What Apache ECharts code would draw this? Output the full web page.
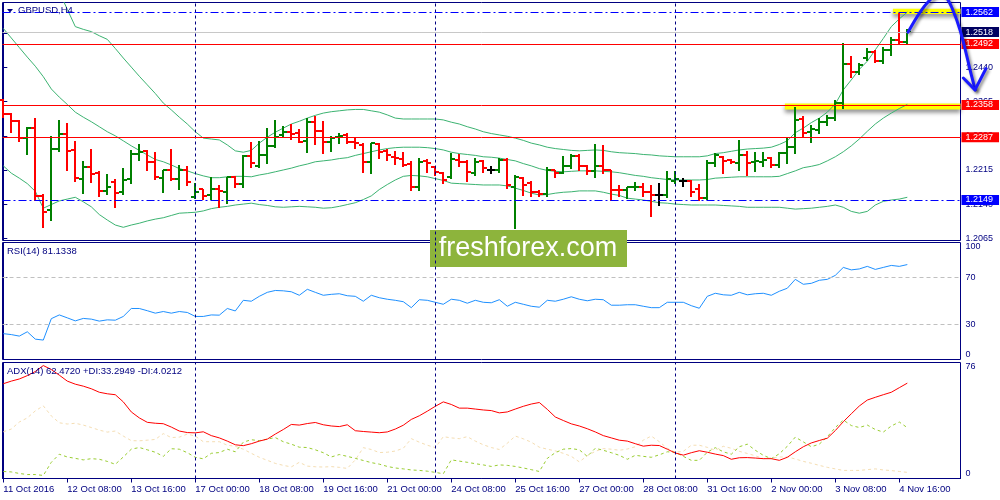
<!DOCTYPE html>
<html><head><meta charset="utf-8">
<script src="https://cdn.jsdelivr.net/npm/echarts@6/dist/echarts.min.js"></script>
<style>html,body{margin:0;padding:0;background:#fff}#c{width:1000px;height:500px}</style>
</head><body><div id="c"></div>
<script>
// ---------- DATA ----------
const symbolName = 'GBPUSD,H4';
const opens = [1.2369,1.2338,1.2323,1.2285,1.2307,1.2158,1.2127,1.2260,1.2294,1.2259,1.2195,1.2221,1.2209,1.2169,1.2189,1.2167,1.2195,1.2250,1.2257,1.2233,1.2197,1.2215,1.2195,1.2215,1.2156,1.2173,1.2160,1.2173,1.2167,1.2199,1.2184,1.2246,1.2224,1.2248,1.2268,1.2292,1.2298,1.2296,1.2279,1.2320,1.2301,1.2277,1.2287,1.2292,1.2277,1.2270,1.2233,1.2272,1.2257,1.2244,1.2238,1.2228,1.2178,1.2235,1.2222,1.2209,1.2199,1.2237,1.2233,1.2209,1.2235,1.2216,1.2215,1.2237,1.2178,1.2197,1.2186,1.2167,1.2162,1.2215,1.2209,1.2224,1.2246,1.2224,1.2213,1.2224,1.2215,1.2172,1.2171,1.2177,1.2178,1.2167,1.2160,1.2160,1.2191,1.2191,1.2191,1.2173,1.2153,1.2231,1.2243,1.2237,1.2231,1.2248,1.2232,1.2233,1.2242,1.2226,1.2252,1.2266,1.2326,1.2299,1.2303,1.2321,1.2329,1.2362,1.2448,1.2430,1.2461,1.2474,1.2454,1.2479,1.2501,1.2496];
const highs = [1.2370,1.2340,1.2324,1.2309,1.2330,1.2162,1.2290,1.2325,1.2319,1.2279,1.2235,1.2260,1.2212,1.2206,1.2195,1.2219,1.2259,1.2271,1.2259,1.2255,1.2216,1.2260,1.2226,1.2224,1.2186,1.2174,1.2199,1.2181,1.2200,1.2202,1.2248,1.2277,1.2279,1.2307,1.2325,1.2312,1.2316,1.2304,1.2330,1.2334,1.2323,1.2290,1.2297,1.2297,1.2285,1.2274,1.2275,1.2275,1.2260,1.2257,1.2255,1.2235,1.2241,1.2238,1.2224,1.2211,1.2252,1.2250,1.2237,1.2242,1.2237,1.2224,1.2241,1.2241,1.2204,1.2199,1.2191,1.2171,1.2222,1.2216,1.2246,1.2250,1.2249,1.2226,1.2272,1.2270,1.2216,1.2182,1.2178,1.2189,1.2187,1.2182,1.2187,1.2213,1.2213,1.2197,1.2193,1.2184,1.2237,1.2252,1.2246,1.2238,1.2281,1.2257,1.2255,1.2255,1.2244,1.2255,1.2288,1.2354,1.2334,1.2314,1.2329,1.2336,1.2369,1.2494,1.2465,1.2450,1.2482,1.2479,1.2485,1.2507,1.2560,1.2525];
const lows = [1.2331,1.2299,1.2279,1.2249,1.2149,1.2089,1.2105,1.2257,1.2215,1.2191,1.2165,1.2189,1.2158,1.2162,1.2133,1.2162,1.2186,1.2237,1.2215,1.2195,1.2167,1.2193,1.2173,1.2182,1.2153,1.2151,1.2151,1.2134,1.2142,1.2177,1.2177,1.2221,1.2221,1.2231,1.2266,1.2288,1.2282,1.2276,1.2255,1.2271,1.2253,1.2257,1.2275,1.2275,1.2263,1.2211,1.2209,1.2241,1.2237,1.2228,1.2224,1.2171,1.2171,1.2211,1.2204,1.2186,1.2197,1.2224,1.2191,1.2204,1.2211,1.2209,1.2211,1.2175,1.2087,1.2160,1.2158,1.2158,1.2158,1.2199,1.2208,1.2219,1.2216,1.2206,1.2200,1.2209,1.2148,1.2158,1.2153,1.2171,1.2158,1.2114,1.2138,1.2156,1.2186,1.2180,1.2158,1.2149,1.2151,1.2224,1.2209,1.2231,1.2215,1.2204,1.2213,1.2224,1.2221,1.2222,1.2231,1.2253,1.2288,1.2277,1.2297,1.2314,1.2325,1.2351,1.2419,1.2426,1.2457,1.2452,1.2450,1.2468,1.2494,1.2494];
const closes = [1.2337,1.2323,1.2285,1.2308,1.2158,1.2122,1.2260,1.2294,1.2257,1.2197,1.2221,1.2206,1.2169,1.2178,1.2164,1.2193,1.2249,1.2255,1.2233,1.2199,1.2215,1.2195,1.2215,1.2189,1.2167,1.2158,1.2173,1.2169,1.2199,1.2184,1.2246,1.2230,1.2248,1.2268,1.2288,1.2298,1.2294,1.2277,1.2320,1.2301,1.2276,1.2286,1.2290,1.2277,1.2274,1.2233,1.2274,1.2255,1.2248,1.2241,1.2226,1.2178,1.2233,1.2231,1.2211,1.2193,1.2238,1.2233,1.2211,1.2233,1.2219,1.2216,1.2237,1.2182,1.2199,1.2182,1.2167,1.2162,1.2215,1.2208,1.2224,1.2246,1.2224,1.2213,1.2224,1.2216,1.2171,1.2170,1.2177,1.2178,1.2167,1.2160,1.2160,1.2195,1.2195,1.2191,1.2167,1.2153,1.2231,1.2248,1.2235,1.2233,1.2248,1.2231,1.2235,1.2237,1.2226,1.2252,1.2266,1.2325,1.2297,1.2304,1.2321,1.2329,1.2362,1.2448,1.2430,1.2446,1.2474,1.2454,1.2479,1.2501,1.2496,1.2518];

const bbUpper = [null,null,null,null,null,null,null,1.2606,1.2568,1.2530,1.2524,1.2519,1.2510,1.2502,1.2482,1.2461,1.2441,1.2421,1.2402,1.2383,1.2362,1.2347,1.2331,1.2316,1.2299,1.2285,1.2283,1.2281,1.2270,1.2257,1.2254,1.2258,1.2274,1.2287,1.2298,1.2307,1.2316,1.2322,1.2329,1.2335,1.2340,1.2343,1.2345,1.2347,1.2348,1.2348,1.2345,1.2342,1.2336,1.2329,1.2327,1.2327,1.2327,1.2327,1.2327,1.2325,1.2320,1.2316,1.2310,1.2305,1.2299,1.2295,1.2292,1.2289,1.2285,1.2280,1.2274,1.2270,1.2265,1.2262,1.2260,1.2258,1.2257,1.2258,1.2259,1.2258,1.2255,1.2253,1.2252,1.2251,1.2249,1.2248,1.2246,1.2245,1.2244,1.2244,1.2244,1.2244,1.2246,1.2251,1.2253,1.2256,1.2259,1.2261,1.2262,1.2263,1.2265,1.2271,1.2279,1.2297,1.2307,1.2319,1.2329,1.2342,1.2360,1.2391,1.2413,1.2436,1.2454,1.2479,1.2504,1.2530,1.2547,1.2562];
const bbMiddle = [1.2526,1.2505,1.2484,1.2463,1.2443,1.2420,1.2393,1.2375,1.2359,1.2342,1.2331,1.2321,1.2310,1.2299,1.2290,1.2279,1.2268,1.2258,1.2248,1.2238,1.2233,1.2226,1.2218,1.2213,1.2207,1.2202,1.2198,1.2198,1.2200,1.2201,1.2201,1.2200,1.2204,1.2207,1.2211,1.2215,1.2219,1.2224,1.2228,1.2233,1.2235,1.2237,1.2240,1.2242,1.2247,1.2251,1.2255,1.2259,1.2262,1.2264,1.2265,1.2265,1.2265,1.2264,1.2262,1.2259,1.2254,1.2251,1.2249,1.2247,1.2244,1.2243,1.2241,1.2238,1.2235,1.2229,1.2224,1.2218,1.2214,1.2212,1.2211,1.2212,1.2213,1.2213,1.2213,1.2212,1.2211,1.2209,1.2206,1.2203,1.2201,1.2198,1.2196,1.2194,1.2193,1.2193,1.2193,1.2193,1.2194,1.2197,1.2198,1.2199,1.2200,1.2200,1.2200,1.2200,1.2200,1.2201,1.2207,1.2213,1.2220,1.2223,1.2227,1.2235,1.2244,1.2255,1.2268,1.2283,1.2300,1.2316,1.2329,1.2340,1.2350,1.2359];
const bbLower = [1.2224,1.2208,1.2197,1.2185,1.2168,1.2131,1.2139,1.2147,1.2151,1.2155,1.2145,1.2134,1.2117,1.2105,1.2094,1.2089,1.2094,1.2098,1.2103,1.2107,1.2110,1.2115,1.2120,1.2121,1.2122,1.2125,1.2130,1.2133,1.2135,1.2138,1.2140,1.2142,1.2139,1.2137,1.2134,1.2133,1.2134,1.2135,1.2134,1.2133,1.2131,1.2132,1.2135,1.2139,1.2143,1.2150,1.2158,1.2172,1.2183,1.2193,1.2201,1.2203,1.2202,1.2200,1.2196,1.2192,1.2186,1.2185,1.2184,1.2183,1.2182,1.2182,1.2182,1.2180,1.2175,1.2170,1.2164,1.2160,1.2161,1.2164,1.2166,1.2167,1.2169,1.2169,1.2169,1.2166,1.2162,1.2159,1.2153,1.2151,1.2149,1.2146,1.2143,1.2142,1.2140,1.2139,1.2138,1.2138,1.2138,1.2138,1.2137,1.2136,1.2135,1.2133,1.2133,1.2133,1.2133,1.2133,1.2131,1.2129,1.2130,1.2131,1.2133,1.2135,1.2138,1.2133,1.2124,1.2120,1.2124,1.2138,1.2146,1.2149,1.2151,1.2155];

const rsi = [22.1,21.3,20.0,23.7,17.4,16.6,34.9,38.1,35.6,33.0,35.1,34.5,32.8,33.9,33.6,36.8,43.6,43.6,41.7,39.6,41.0,39.6,41.0,40.2,36.8,36.8,38.1,37.9,43.6,41.5,50.6,49.8,54,57.4,59,58.7,57.9,54.9,60,57.4,54.9,55.7,56.2,54.5,54,49.8,54.9,52.8,51.5,50.6,49.4,44.3,51.1,50.6,48.9,47.2,51.5,50.6,48.1,50.6,48.9,48.5,51.1,45.5,48.9,47.2,45.5,44.7,50.6,49.8,51.5,53.6,51.5,50.2,51.5,51.1,46.4,46.4,46.8,46.8,45.5,44.3,44.3,48.9,48.9,48.9,46,43.8,54,56.6,55.3,54.9,57.4,55.3,56.2,56.6,54.9,58.3,60.9,68.5,64.3,65.1,67.7,68.5,71.9,78.7,76.6,77.4,79.6,77,78.7,80.4,79.6,81.1338];
const adx = [62.1,63.8,65.2,67.4,70.1,74.0,71.4,67.7,63.8,61.8,60.5,58.8,56.5,55.5,54.9,50.2,43.6,39.7,36.8,36.2,35.9,33.7,31.1,30.1,29.9,30.6,28.1,26.6,24.5,22.1,21.5,22.8,24.5,25.8,29.1,32.1,35.4,35.0,36.0,36.7,35.2,34.4,34.0,35.2,31.3,30.8,30.4,30.0,30.5,32.4,34.9,38.7,41.1,44.1,47.3,50.2,48.5,46.1,46.1,45.5,44.9,44.5,43.0,43.6,45.5,47.3,48.8,49.8,45.3,40.3,38.0,35.8,34.4,32.6,30.5,28.1,26.6,25.1,24.5,22.8,21.2,21.8,21.6,19.2,16.7,15.3,16.9,18.2,17.2,16.0,15.0,12.6,13.6,13.7,13.4,13.0,13.0,11.9,13.9,17.5,20.8,23.3,24.9,26.4,31.4,37.2,42.4,47.5,51.4,53.2,54.9,56.5,59.5,62.4720];
const plusDI = [4.6,4.3,3.3,2.6,2.6,2.0,10.6,15.9,14.1,13.2,12.2,13.0,12.6,11.2,9.3,14.1,19.2,20.3,18.8,17.2,14.5,19.5,19.2,16.9,13.9,12.9,16.5,17.0,19.2,17.5,23.8,25.4,24.8,25.8,26.8,24.1,22.5,20.5,20.3,18.8,16.9,14.1,15.7,14.5,13.2,11.8,10.4,9.4,7.9,6.9,6.3,5.6,5.3,4.8,4.0,3.1,12.2,11.4,10.6,9.7,8.9,7.9,8.9,8.6,7.9,6.9,5.8,4.6,13.2,16.9,19.2,19.6,18.8,14.5,19.8,18.5,16.9,15.2,12.6,15.2,14.5,13.9,15.5,17.5,17.2,14.5,11.9,11.9,17.2,20.2,17.5,15.9,20.8,22.5,18.5,15.2,13.0,16.2,21.1,27.1,24.0,20.8,22.5,27.3,33.4,38.3,34.7,33.4,35.0,32.1,30.4,34.4,37.0,33.2949];
const minusDI = [30.6,32.4,37.0,39.7,44.3,47.6,41.0,36.5,35.7,36.2,35.0,33.4,31.7,30.4,31.1,27.8,24.8,24.7,25.1,25.6,29.4,26.8,27.1,29.1,27.8,24.1,24.1,24.1,21.8,21.1,19.2,16.5,13.9,11.9,9.9,8.6,7.6,10.6,8.1,7.7,7.5,7.8,7.3,6.6,12.2,20.2,19.0,17.0,17.2,18.0,19.8,26.1,23.8,21.8,20.2,27.4,26.6,26.1,27.4,24.5,22.1,20.3,19.0,23.1,27.8,26.0,23.8,20.5,19.2,18.1,16.5,14.5,10.9,14.9,17.8,19.6,19.2,18.5,19.3,20.8,25.1,27.8,24.1,19.8,17.2,17.8,21.8,21.8,20.4,18.5,21.1,19.8,17.8,16.4,14.9,13.0,13.5,14.1,14.1,12.8,11.2,10.0,8.6,7.3,6.3,5.3,5.3,5.3,5.8,6.3,5.6,5.2,4.6,4.0212];

const timeTickIdx = [0,8,16,24,32,40,48,56,64,72,80,88,96,104,112];
const timeTickLabels = ['11 Oct 2016','12 Oct 08:00','13 Oct 16:00','17 Oct 00:00','18 Oct 08:00','19 Oct 16:00','21 Oct 00:00','24 Oct 08:00','25 Oct 16:00','27 Oct 00:00','28 Oct 08:00','31 Oct 16:00','2 Nov 00:00','3 Nov 08:00','4 Nov 16:00'];
const weekStartIdx = [24,54,84];
const priceTicks = [1.2065,1.2140,1.2215,1.2290,1.2365,1.2440,1.2515];
const redLevels = [1.2492,1.2358,1.2287];
const blueLevels = [1.2562,1.2149];
const bidPrice = 1.2518;
const rsiLevels = [30,70];
const rsiTicks = [0,30,70,100];
const adxTicks = [0,76];
// highlighted zones: start bar, top price, bottom price
const zoneFrom = [111.2, 97.7];
const zoneTop = [1.2569, 1.2361];
const zoneBottom = [1.2558, 1.2348];
// hand-drawn forecast arrow, [bar, price]
const arrowPath = [[113.1,1.2518],[114.6,1.2562],[115.8,1.2588],[116.8,1.2600],[117.8,1.2595],[118.7,1.2566],[119.6,1.2522],[120.4,1.2468],[121.0,1.2424],[121.5,1.2391]];
const arrowHead = [[120.0,1.2417],[121.46,1.2391],[122.84,1.2438]];

// ---------- CHART ----------
const NAVY = '#000080', GREEN = '#008000', RED = '#ff0000', BB = '#3cb371', BLUE = '#1a1aff';
const FONT = 'Liberation Sans';
const xMin = -0.1, xMax = 119.65;
const chart = echarts.init(document.getElementById('c'), null, {renderer: 'canvas'});

function ohlcRender(params, api) {
  const i = api.value(0), o = api.value(1), h = api.value(2), l = api.value(3), c = api.value(4);
  const ph = api.coord([i, h]), pl = api.coord([i, l]), po = api.coord([i, o]), pc = api.coord([i, c]);
  const x = Math.round(ph[0]);
  const col = c > o ? GREEN : (c < o ? RED : '#000000');
  const st = {stroke: col, lineWidth: 2};
  return {type: 'group', children: [
    {type: 'line', shape: {x1: x, y1: Math.round(ph[1]), x2: x, y2: Math.round(pl[1]) + 1}, style: st},
    {type: 'line', shape: {x1: x - 4, y1: Math.round(po[1]), x2: x, y2: Math.round(po[1])}, style: st},
    {type: 'line', shape: {x1: x, y1: Math.round(pc[1]), x2: x + 4, y2: Math.round(pc[1])}, style: st}
  ]};
}

function arrowRender(params, api) {
  const st = {stroke: BLUE, fill: null, lineWidth: 3, lineCap: 'round', lineJoin: 'round',
    shadowBlur: 3, shadowColor: 'rgba(0,0,0,0.45)', shadowOffsetX: 2, shadowOffsetY: 2};
  return {type: 'group', children: [
    {type: 'polyline', shape: {points: arrowPath.map(p => api.coord(p)), smooth: 0.4}, style: st},
    {type: 'polyline', shape: {points: arrowHead.map(p => api.coord(p))}, style: st}
  ]};
}

const txt = {color: NAVY, fontSize: 9, fontFamily: FONT};
const txtL = {color: NAVY, fontSize: 9.5, fontFamily: FONT};
const sepLine = (xi, yi) => ({type: 'line', xAxisIndex: xi, yAxisIndex: yi, data: [], silent: true, z: 1,
  markLine: {symbol: 'none', silent: true, animation: false, precision: 4, label: {show: false},
    lineStyle: {color: NAVY, type: [3, 3], width: 1}, data: weekStartIdx.map(v => ({xAxis: v}))}});
const levelLabel = (v, bg) => ({show: true, position: 'end', distance: 1, formatter: v.toFixed(4),
  backgroundColor: bg, color: '#fff', fontSize: 9, fontFamily: FONT, padding: [1, 6, 0, 4], lineHeight: 9});

const hiddenX = i => ({gridIndex: i, type: 'value', min: xMin, max: xMax, show: false, splitLine: {show: false}});
const gridBase = {left: 2.5, width: 958, show: true, borderColor: NAVY, borderWidth: 1, backgroundColor: '#fff'};
const titleStyle = Object.assign({fontWeight: 'normal'}, txtL);

const option = {
  animation: false,
  backgroundColor: '#ffffff',
  title: [
    {text: symbolName, left: 18, top: 5, padding: 0, textStyle: titleStyle},
    {text: 'RSI(14) ' + rsi[rsi.length - 1].toFixed(4), left: 7, top: 246, padding: 0, textStyle: titleStyle},
    {text: 'ADX(14) ' + adx[adx.length - 1].toFixed(4) + ' +DI:' + plusDI[plusDI.length - 1].toFixed(4) + ' -DI:' + minusDI[minusDI.length - 1].toFixed(4),
      left: 7, top: 366, padding: 0, textStyle: titleStyle}
  ],
  grid: [
    Object.assign({top: 2.5, height: 238}, gridBase),
    Object.assign({top: 242.5, height: 117}, gridBase),
    Object.assign({top: 362.5, height: 116}, gridBase)
  ],
  xAxis: [hiddenX(0), hiddenX(1), {
    gridIndex: 2, type: 'value', min: xMin, max: xMax, splitLine: {show: false},
    axisLine: {show: true, lineStyle: {color: NAVY}},
    axisTick: {show: true, length: 4, customValues: timeTickIdx, lineStyle: {color: NAVY}},
    axisLabel: Object.assign({customValues: timeTickIdx, align: 'left', margin: 6,
      formatter: v => timeTickLabels[timeTickIdx.indexOf(Math.round(v))]}, txtL)
  }],
  yAxis: [
    {gridIndex: 0, type: 'value', position: 'right', min: 1.2060, max: 1.2583, splitLine: {show: false},
      axisLine: {show: true, lineStyle: {color: NAVY}},
      axisTick: {show: true, length: 4, customValues: priceTicks, lineStyle: {color: NAVY}},
      axisLabel: Object.assign({customValues: priceTicks, margin: 5, formatter: v => v.toFixed(4)}, txt)},
    {gridIndex: 1, type: 'value', position: 'right', min: 0, max: 100, splitLine: {show: false},
      axisLine: {show: true, lineStyle: {color: NAVY}},
      axisTick: {show: true, length: 4, customValues: rsiTicks, lineStyle: {color: NAVY}},
      axisLabel: Object.assign({customValues: rsiTicks, margin: 5, verticalAlignMinLabel: 'bottom', verticalAlignMaxLabel: 'top'}, txt)},
    {gridIndex: 2, type: 'value', position: 'right', min: 0, max: 76, splitLine: {show: false},
      axisLine: {show: true, lineStyle: {color: NAVY}},
      axisTick: {show: true, length: 4, customValues: adxTicks, lineStyle: {color: NAVY}},
      axisLabel: Object.assign({customValues: adxTicks, margin: 5, verticalAlignMinLabel: 'bottom', verticalAlignMaxLabel: 'top'}, txt)}
  ],
  series: [
    // highlight zones
    {type: 'line', xAxisIndex: 0, yAxisIndex: 0, data: [], silent: true, z: 1,
      markArea: {silent: true, animation: false, precision: 4,
        itemStyle: {color: '#ffff00', shadowBlur: 4, shadowColor: 'rgba(0,0,0,0.45)', shadowOffsetY: 3},
        data: zoneFrom.map((f, k) => [{xAxis: f, yAxis: zoneTop[k]}, {xAxis: xMax, yAxis: zoneBottom[k]}])}},
    sepLine(0, 0), sepLine(1, 1), sepLine(2, 2),
    // price levels
    {type: 'line', xAxisIndex: 0, yAxisIndex: 0, data: [], silent: true, z: 6,
      markLine: {symbol: 'none', silent: true, animation: false, precision: 4,
        data: [
          {yAxis: bidPrice, lineStyle: {color: '#c8c8c8', width: 1, type: 'solid'}, label: levelLabel(bidPrice, '#000060')},
          ...redLevels.map(v => ({yAxis: v, lineStyle: {color: RED, width: 1, type: 'solid'}, label: levelLabel(v, RED)})),
          ...blueLevels.map(v => ({yAxis: v, lineStyle: {color: '#0000ff', width: 1, type: [8, 3, 2, 3]}, label: levelLabel(v, '#0000ff')}))
        ]}},
    // bollinger bands
    ...[bbUpper, bbMiddle, bbLower].map(arr => ({type: 'line', xAxisIndex: 0, yAxisIndex: 0, symbol: 'none', silent: true, z: 3,
      data: arr.map((v, i) => [i, v]), lineStyle: {color: BB, width: 1}})),
    // OHLC bars
    {type: 'custom', xAxisIndex: 0, yAxisIndex: 0, z: 4, renderItem: ohlcRender,
      data: closes.map((c, i) => [i, opens[i], highs[i], lows[i], c]), encode: {x: 0, y: [1, 2, 3, 4]}},
    // hand-drawn arrow
    {type: 'custom', xAxisIndex: 0, yAxisIndex: 0, z: 20, silent: true, clip: false, renderItem: arrowRender,
      data: [arrowPath[0]]},
    // RSI
    {type: 'line', xAxisIndex: 1, yAxisIndex: 1, symbol: 'none', silent: true, z: 3,
      data: rsi.map((v, i) => [i, v]), lineStyle: {color: '#1e90ff', width: 1},
      markLine: {symbol: 'none', silent: true, animation: false, precision: 4, label: {show: false},
        lineStyle: {color: '#c0c0c0', type: [4, 3], width: 1}, data: rsiLevels.map(v => ({yAxis: v}))}},
    // ADX
    {type: 'line', xAxisIndex: 2, yAxisIndex: 2, symbol: 'none', silent: true, z: 2,
      data: minusDI.map((v, i) => [i, v]), lineStyle: {color: '#f5deb3', width: 1, type: [3, 3]}},
    {type: 'line', xAxisIndex: 2, yAxisIndex: 2, symbol: 'none', silent: true, z: 2,
      data: plusDI.map((v, i) => [i, v]), lineStyle: {color: '#9acd32', width: 1, type: [3, 3]}},
    {type: 'line', xAxisIndex: 2, yAxisIndex: 2, symbol: 'none', silent: true, z: 3,
      data: adx.map((v, i) => [i, v]), lineStyle: {color: RED, width: 1}}
  ],
  graphic: [
    {type: 'polygon', shape: {points: [[7, 9], [13, 9], [10, 12.5]]}, style: {fill: NAVY}, z: 50},
    {type: 'group', z: 100, children: [
      {type: 'rect', shape: {x: 430, y: 230, width: 197, height: 37}, style: {fill: '#8db43c'}},
      {type: 'text', style: {text: 'freshforex.com', x: 528, y: 249, align: 'center', verticalAlign: 'middle',
        fill: '#ffffff', font: '27px "Liberation Sans", sans-serif'}}
    ]}
  ]
};
chart.setOption(option);
</script>
</body></html>
